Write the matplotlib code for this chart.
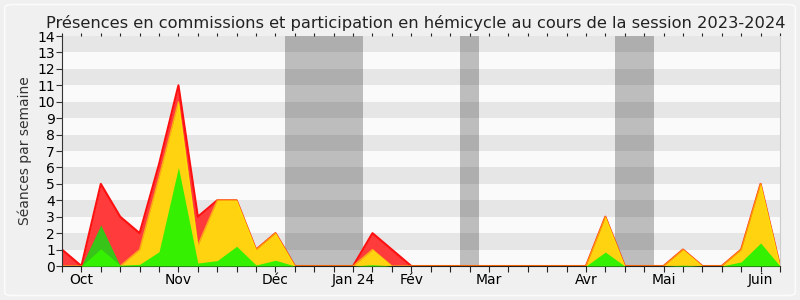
import numpy as np
import matplotlib.pyplot as plt
from matplotlib.patches import FancyBboxPatch

# weekly values, session 2023-2024 (38 weeks)
weeks = np.arange(38)
presences = [1, 0, 5, 3, 2, 6.2, 11, 3, 4, 4, 1, 2, 0, 0, 0, 0, 2, 1, 0, 0,
             0, 0, 0, 0, 0, 0, 0, 0, 3, 0, 0, 0, 1, 0, 0, 1, 5, 0]
hemicycle = [0, 0, 0, 0, 1, 5.4, 10, 1.25, 4, 4, 1, 2, 0, 0, 0, 0, 1, 0, 0, 0,
             0, 0, 0, 0, 0, 0, 0, 0, 3, 0, 0, 0, 1, 0, 0, 1, 5, 0]
interv_com = [0, 0, 2.5, 0, 0, 0, 0, 0, 0, 0, 0, 0, 0, 0, 0, 0, 0, 0, 0, 0,
              0, 0, 0, 0, 0, 0, 0, 0, 0, 0, 0, 0, 0, 0, 0, 0, 0, 0]
interv_hemi = [0, 0, 1.05, 0.05, 0.1, 0.87, 6, 0.18, 0.33, 1.2, 0.06, 0.35, 0, 0, 0, 0, 0.08, 0, 0, 0,
               0, 0, 0, 0, 0, 0, 0, 0, 0.85, 0, 0, 0, 0.05, 0, 0, 0.25, 1.4, 0]

month_pos = [1, 6, 11, 15, 18, 22, 27, 31, 36]
month_labels = ['Oct', 'Nov', 'Déc', 'Jan 24', 'Fév', 'Mar', 'Avr', 'Mai', 'Juin']
vacances = [(11.5, 15.5), (20.5, 21.5), (28.5, 30.5)]

fig = plt.figure(figsize=(8, 3), dpi=100, facecolor='#f0f0f0')
fig.patches.append(FancyBboxPatch((0.006, 0.015), 0.988, 0.97, boxstyle='round,pad=0,rounding_size=0.01',
                                  transform=fig.transFigure, facecolor='none', edgecolor='#fbfbfb', lw=1.2))
ax = fig.add_axes([0.0775, 0.1133, 0.8975, 0.7667])
ax.set_facecolor('#fafafa')

# stripes + vacations
for y in range(1, 14, 2):
    ax.axhspan(y, y + 1, color='#e6e6e6', lw=0, zorder=0)
for a, b in vacances:
    ax.axvspan(a, b, color='#0a0a0a', alpha=0.25, lw=0, zorder=0.5)

ax.fill_between(weeks, presences, color='#ff3b3b', lw=0, zorder=1)
ax.plot(weeks, presences, color='#ff1010', lw=1.5, zorder=1.1)
ax.fill_between(weeks, hemicycle, color='#ffd30f', lw=0, zorder=2)
ax.plot(weeks, hemicycle, color='#ffee00', lw=1.0, alpha=0.6, zorder=2.1)
ax.fill_between(weeks, interv_com, color='#38c418', lw=0, zorder=3)
ax.fill_between(weeks, interv_hemi, color='#35f000', lw=0, zorder=4)

ax.set_xlim(0, 37)
ax.set_ylim(0, 14)
ax.set_yticks(range(15))
ax.tick_params(axis='y', length=4, width=0.8, labelsize=10, pad=1, color='#333333')
ax.set_xticks(month_pos)
ax.set_xticklabels(month_labels)
ax.set_xticks(weeks, minor=True)
ax.tick_params(axis='x', which='both', length=4, width=0.8, labelsize=10, pad=1,
               color='#222222', top=True, labeltop=False)
# shorter ticks along the top edge
for tl in ax.xaxis.get_minorticklines()[1::2] + ax.xaxis.get_majorticklines()[1::2]:
    tl.set_markersize(2)
ax.spines['top'].set_visible(False)
ax.spines['right'].set_color('#cccccc')
ax.spines['left'].set_color('#333333')
ax.spines['bottom'].set_color('#222222')

ax.set_ylabel('Séances par semaine', fontsize=10, color='#333333', labelpad=4)
ax.set_title('Présences en commissions et participation en hémicycle au cours de la session 2023-2024',
             fontsize=11.7, color='#222222', pad=6, x=0.492)

fig.savefig('out.png', dpi=100, facecolor=fig.get_facecolor())
